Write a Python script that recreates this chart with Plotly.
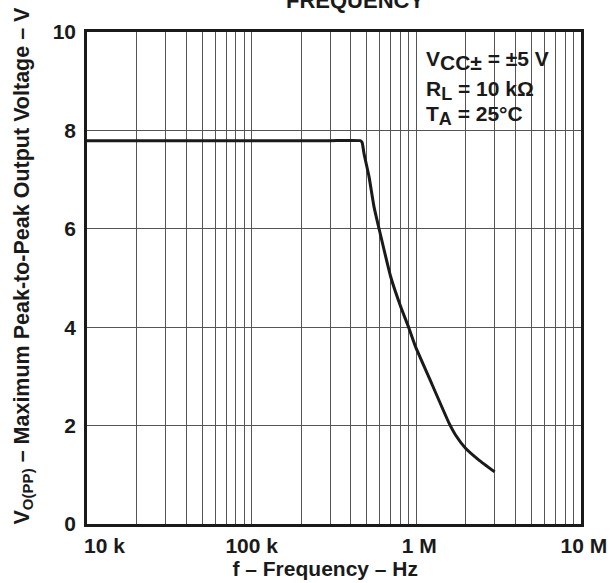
import plotly.graph_objects as go

# Data
freq_hz = [10000, 100000, 300000, 459000, 469000, 481000, 516000, 553000, 593000,
           698000, 803000, 902000, 990000, 1190000, 1580000, 1730000, 1990000,
           2400000, 2990000]
vopp_v = [7.79, 7.79, 7.79, 7.79, 7.75, 7.53, 7.06, 6.45, 6.01,
          5.03, 4.42, 3.98, 3.60, 2.99, 2.05, 1.81, 1.54,
          1.30, 1.06]

decades = [1e4, 1e5, 1e6, 1e7]
decade_labels = ["\u00a0" * 6 + "10 k", "100 k", "\u00a01 M", "\u00a010 M"]
y_ticks = [0, 2, 4, 6, 8, 10]
y_labels = ["0", "2", "4", "6", "8", "10"]

SUB = '<sub><span style="font-size:{}px">{}</span></sub>'
conditions = ["V" + SUB.format(21, "CC\u00b1") + " = \u00b15 V",
              "R" + SUB.format(18, "L") + " = 10 k\u03a9",
              "T" + SUB.format(18, "A") + " = 25\u00b0C"]

# invisible padding used to nudge the axis titles off-centre like the reference
PAD = '<span style="color:rgba(0,0,0,0)">{}</span>'

# grid positions: every 1..9 within each decade
grid_vals = []
grid_text = []
for i, d in enumerate(decades[:-1]):
    for m in range(1, 10):
        grid_vals.append(d * m)
        grid_text.append(decade_labels[i] if m == 1 else "")
grid_vals.append(decades[-1])
grid_text.append(decade_labels[-1])

FONT = "Liberation Sans, Arial, Helvetica, sans-serif"

fig = go.Figure()
fig.add_trace(go.Scatter(x=freq_hz, y=vopp_v, mode="lines",
                         line=dict(color="#1a1a1a", width=3, shape="spline", smoothing=0.4),
                         hoverinfo="skip", showlegend=False))

fig.update_layout(
    width=611, height=583,
    margin=dict(l=87, r=30, t=32, b=59),
    paper_bgcolor="white", plot_bgcolor="white",
    font=dict(family=FONT, color="#1a1a1a", size=21),
    showlegend=False,
)

fig.update_xaxes(type="log", range=[4, 7], automargin=False,
                 tickmode="array", tickvals=grid_vals, ticktext=grid_text,
                 showgrid=True, gridcolor="#555555", gridwidth=1,
                 showline=True, linecolor="#1a1a1a", linewidth=2.5, mirror=True,
                 ticks="", ticklabelstandoff=1,
                 tickfont=dict(size=21, weight="bold", family=FONT),
                 title=dict(text="f \u2013 Frequency \u2013 Hz" + PAD.format("\u00a0\u2013"),
                            font=dict(size=21, weight="bold", family=FONT), standoff=0),
                 zeroline=False)

fig.update_yaxes(range=[0, 10], automargin=False,
                 tickmode="array", tickvals=y_ticks, ticktext=y_labels,
                 showgrid=True, gridcolor="#555555", gridwidth=1,
                 showline=True, linecolor="#1a1a1a", linewidth=2.5, mirror=True,
                 ticks="", ticklabelstandoff=4,
                 tickfont=dict(size=21, weight="bold", family=FONT),
                 title=dict(text=PAD.format("\u2013\u2013") +
                            "V<sub>O(PP)</sub> \u2013 Maximum Peak-to-Peak Output Voltage \u2013 V",
                            font=dict(size=21.5, weight="bold", family=FONT), standoff=18),
                 zeroline=False)

# white box behind the conditions text
fig.add_shape(type="rect", xref="paper", yref="paper",
              x0=0.674, x1=0.953, y0=0.797, y1=0.976,
              fillcolor="white", line=dict(width=0), layer="between")
fig.add_shape(type="rect", xref="paper", yref="paper",
              x0=0.953, x1=0.996, y0=0.907, y1=0.976,
              fillcolor="white", line=dict(width=0), layer="between")

for txt, yp in zip(conditions, [0.943, 0.882, 0.831]):
    fig.add_annotation(text=txt, xref="paper", yref="paper", x=0.682, y=yp,
                       xanchor="left", yanchor="middle", showarrow=False,
                       font=dict(size=21, weight="bold", family=FONT, color="#1a1a1a"))

fig.add_annotation(text="FREQUENCY", xref="paper", yref="paper", x=0.5435, y=1.0333,
                   xanchor="center", yanchor="bottom", showarrow=False, yshift=1,
                   font=dict(size=22, weight="bold", family=FONT, color="#1a1a1a"))

fig.write_html("out.html", config={"displayModeBar": False},
               post_script="document.body.style.margin='0';document.body.style.overflow='hidden';")
